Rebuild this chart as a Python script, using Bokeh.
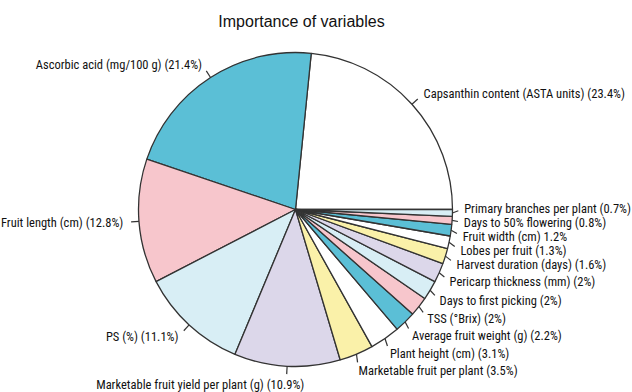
import numpy as np
from bokeh.plotting import figure
from bokeh.models import Range1d, ColumnDataSource
from bokeh.core.properties import value
from bokeh.embed import file_html
from bokeh.resources import INLINE

# Relative importance of each trait (percent of total)
variables = [
    "Capsanthin content (ASTA units)",
    "Ascorbic acid (mg/100 g)",
    "Fruit length (cm)",
    "PS (%)",
    "Marketable fruit yield per plant (g)",
    "Marketable fruit per plant",
    "Plant height (cm)",
    "Average fruit weight (g)",
    "TSS (°Brix)",
    "Days to first picking",
    "Pericarp thickness (mm)",
    "Harvest duration (days)",
    "Lobes per fruit",
    "Fruit width (cm)",
    "Days to 50% flowering",
    "Primary branches per plant",
]
importance = [23.4, 21.4, 12.8, 11.1, 10.9, 3.5, 3.1, 2.2, 2, 2, 2, 1.6, 1.3, 1.2, 0.8, 0.7]

palette = ["#FFFFFF", "#5BBFD6", "#F7C6CC", "#D8EEF5", "#DCD7EA", "#FAF1A9"]

W, H = 632, 392
cx, cy, r = 295, H - 209, 157
LABEL_FONT = "Roboto Condensed"
TITLE_FONT = "Liberation Sans"


def make_label(name, pct):
    # "Fruit width" is printed without brackets round its share
    if name.startswith("Fruit width"):
        return f"{name} {pct:g}%"
    return f"{name} ({pct:g}%)"


labels = [make_label(n, v) for n, v in zip(variables, importance)]
n = len(importance)
cum = np.concatenate([[0.0], np.cumsum(importance)])
total = cum[-1]
start = 2 * np.pi * cum[:-1] / total
end = 2 * np.pi * cum[1:] / total
mid = (start + end) / 2
colors = [palette[i % len(palette)] for i in range(n)]

# label anchors on a ring 10% outside the pie
ex = cx + r * np.cos(mid)
ey = cy + r * np.sin(mid)
lx = cx + 1.1 * r * np.cos(mid)
ly = cy + 1.1 * r * np.sin(mid)

# spread the crowded labels of the small slices on the lower right
gap = 14.0
crowd = sorted([i for i in range(n) if np.cos(mid[i]) > 0 and np.sin(mid[i]) < 0],
               key=lambda i: -ly[i])
for _ in range(600):
    for a, b in zip(crowd[:-1], crowd[1:]):
        d = ly[a] - ly[b]
        if d < gap:
            s = (gap - d) / 2
            ly[a] += s
            ly[b] -= s
for i in crowd:
    ly[i] -= 2
    lx[i] -= 4

# tick marks run from the rim half way to the label anchor
tx = (ex + lx) / 2
ty = (ey + ly) / 2

# the long bottom label is shifted off the neighbouring one
tlx = lx.copy()
tly = ly.copy()
tlx[4] += 18
tly[4] -= 3

p = figure(width=W, height=H, x_range=Range1d(0, W), y_range=Range1d(0, H),
           output_backend="svg", toolbar_location=None, min_border=0)
p.axis.visible = False
p.grid.visible = False
p.outline_line_color = None
p.background_fill_color = "white"
p.border_fill_color = "white"

src = ColumnDataSource(dict(start=start, end=end, color=colors))
p.wedge(x=cx, y=cy, radius=r, start_angle="start", end_angle="end",
        direction="anticlock", fill_color="color", line_color="#333333",
        line_width=1.3, source=src)

p.segment(x0=ex, y0=ey, x1=tx, y1=ty, line_color="#333333", line_width=1.2)

right = [i for i in range(n) if np.cos(mid[i]) >= 0]
left = [i for i in range(n) if np.cos(mid[i]) < 0]
for group, align in ((right, "left"), (left, "right")):
    p.text(x=[tlx[i] for i in group], y=[tly[i] for i in group],
           text=[labels[i] for i in group], text_align=align,
           text_baseline="middle", text_font=value(LABEL_FONT),
           text_font_size="12.5px", text_color="#111111")

p.text(x=[301], y=[H - 21], text=["Importance of variables"], text_align="center",
       text_baseline="middle", text_font=value(TITLE_FONT),
       text_font_size="16px", text_color="#111111")

open("out.html", "w").write(file_html(p, INLINE))
